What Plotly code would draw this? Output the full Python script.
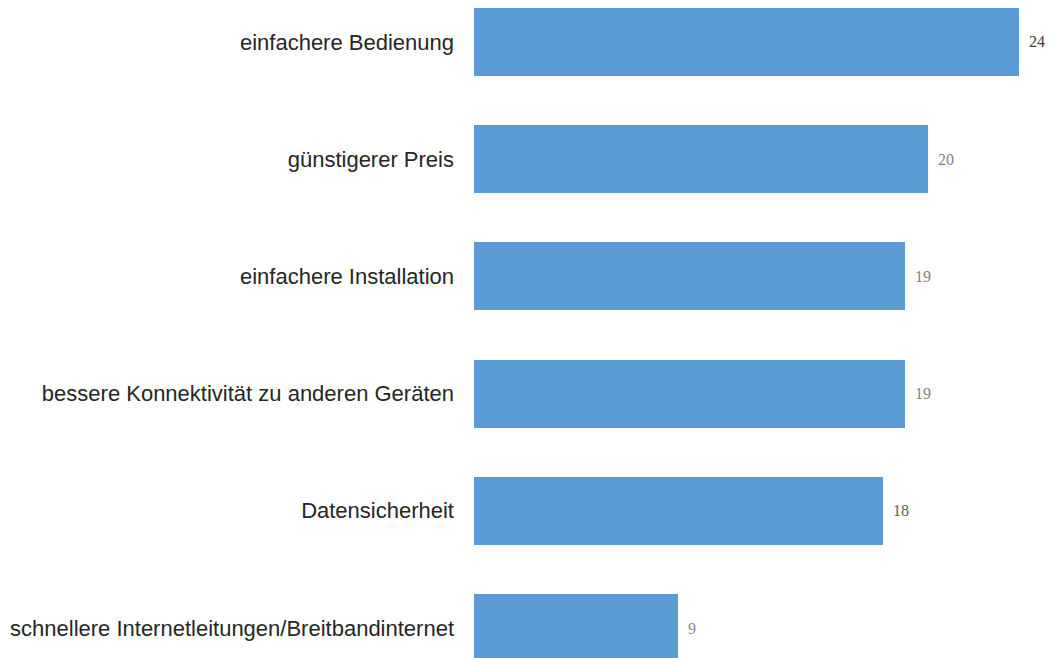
import plotly.graph_objects as go

categories = [
    "einfachere Bedienung",
    "günstigerer Preis",
    "einfachere Installation",
    "bessere Konnektivität zu anderen Geräten",
    "Datensicherheit",
    "schnellere Internetleitungen/Breitbandinternet",
]
values = [24, 20, 19, 19, 18, 9]
label_colors = ["#404040", "#7f7f7f", "#7f7f7f", "#7f7f7f", "#595959", "#8c8c8c"]

fig = go.Figure()
fig.add_trace(go.Bar(
    x=values,
    y=categories,
    orientation="h",
    marker=dict(color="#5b9bd5", line=dict(width=0)),
    width=0.58,
    hoverinfo="skip",
))

for cat, val, col in zip(categories, values, label_colors):
    fig.add_annotation(
        x=val, y=cat, text=str(val), showarrow=False,
        xanchor="left", yanchor="middle", xshift=8,
        font=dict(family="Liberation Serif", size=16, color=col),
    )

fig.update_layout(
    width=1045, height=650,
    margin=dict(l=466, r=0, t=0, b=0),
    paper_bgcolor="white", plot_bgcolor="white",
    showlegend=False,
    bargap=0,
)
fig.update_xaxes(
    range=[0, 25.5], visible=False, showgrid=False, zeroline=False,
)
fig.update_yaxes(
    type="category",
    categoryorder="array", categoryarray=categories,
    range=[5.256, -0.290],
    showgrid=False, zeroline=False, showline=False, ticks="",
    ticklabelstandoff=19,
    tickfont=dict(family="Liberation Sans, Arial", size=22, color="#262626"),
)

fig.write_html("out.html")
